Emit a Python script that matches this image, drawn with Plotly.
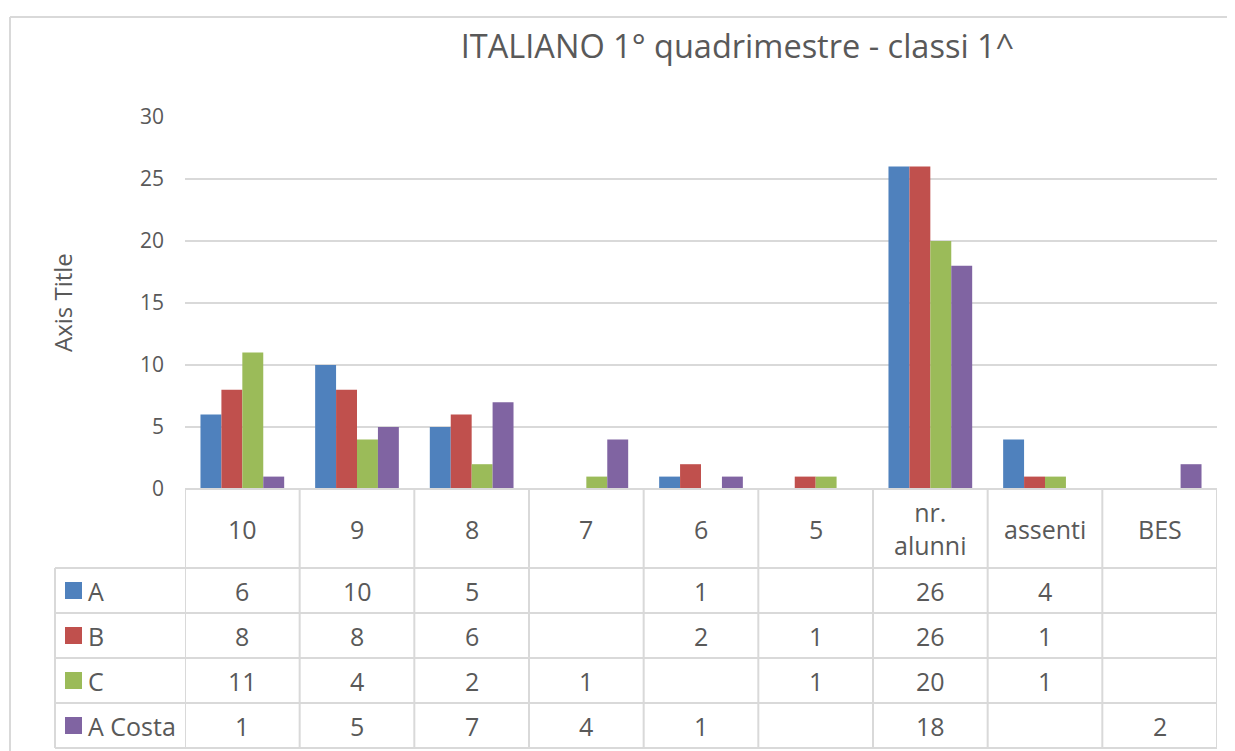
import plotly.graph_objects as go

categories = ["10", "9", "8", "7", "6", "5", "nr. alunni", "assenti", "BES"]
series_names = ["A", "B", "C", "A Costa"]
vals_A = [6, 10, 5, None, 1, None, 26, 4, None]
vals_B = [8, 8, 6, None, 2, 1, 26, 1, None]
vals_C = [11, 4, 2, 1, None, 1, 20, 1, None]
vals_AC = [1, 5, 7, 4, 1, None, 18, None, 2]
colors = ["#4F81BD", "#C0504D", "#9BBB59", "#8064A2"]
y_ticks = [0, 5, 10, 15, 20, 25, 30]

series_vals = [vals_A, vals_B, vals_C, vals_AC]

OFF = 8  # page body margin
W, H = 1227, 743
L, R, T, B = 177, 18, 109, 262
PW = W - L - R
PH = H - T - B
base_y = 489  # page pixel of y=0


def px(xp):
    return (xp - OFF - L) / PW


def py(yp):
    return (base_y - yp) / PH


FONT = "Open Sans"
TXT = "#595959"
GRID = "#D9D9D9"
TBL_SIZE = 25

fig = go.Figure()
xs = list(range(len(categories)))
for name, vals, col in zip(series_names, series_vals, colors):
    fig.add_trace(go.Bar(x=xs, y=vals, name=name, marker_color=col,
                         marker_line_width=0, showlegend=False))

shapes = []
annotations = []

# table geometry (page pixels)
row_edges = [base_y, 568, 613, 658, 703, 748]
legend_left = 55

shapes.append(dict(type="line", xref="paper", yref="paper", x0=0, x1=1,
                   y0=py(row_edges[0]), y1=py(row_edges[0]),
                   line=dict(color=GRID, width=2)))
for ry in row_edges[1:]:
    shapes.append(dict(type="line", xref="paper", yref="paper", x0=px(legend_left), x1=1,
                       y0=py(ry), y1=py(ry), line=dict(color=GRID, width=2)))
for i in range(len(categories) + 1):
    shapes.append(dict(type="line", xref="x", yref="paper", x0=i - 0.5, x1=i - 0.5,
                       y0=py(row_edges[0]), y1=py(row_edges[-1]),
                       line=dict(color=GRID, width=2)))
shapes.append(dict(type="line", xref="paper", yref="paper", x0=px(legend_left), x1=px(legend_left),
                   y0=py(row_edges[1]), y1=py(row_edges[-1]), line=dict(color=GRID, width=2)))

# outer chart border (left and top visible)
shapes.append(dict(type="line", xref="paper", yref="paper", x0=px(10), x1=px(10),
                   y0=py(17), y1=py(770), line=dict(color=GRID, width=2)))
shapes.append(dict(type="line", xref="paper", yref="paper", x0=px(10), x1=px(1240),
                   y0=py(17), y1=py(17), line=dict(color=GRID, width=2)))

cat_center = (row_edges[0] + row_edges[1]) / 2
for i, c in enumerate(categories):
    annotations.append(dict(xref="x", yref="paper", x=i, y=py(cat_center),
                            text=c.replace(" ", "<br>"), showarrow=False,
                            font=dict(family=FONT, size=TBL_SIZE, color=TXT),
                            xanchor="center", yanchor="middle"))

for r, (name, vals, col) in enumerate(zip(series_names, series_vals, colors)):
    yc = (row_edges[r + 1] + row_edges[r + 2]) / 2
    shapes.append(dict(type="rect", xref="paper", yref="paper",
                       x0=px(65), x1=px(82), y0=py(yc - 8.5), y1=py(yc + 8.5),
                       fillcolor=col, line=dict(width=0)))
    annotations.append(dict(xref="paper", yref="paper", x=px(86), y=py(yc),
                            text=name, showarrow=False,
                            font=dict(family=FONT, size=TBL_SIZE, color=TXT),
                            xanchor="left", yanchor="middle"))
    for i, v in enumerate(vals):
        if v is None:
            continue
        annotations.append(dict(xref="x", yref="paper", x=i, y=py(yc),
                                text=str(v), showarrow=False,
                                font=dict(family=FONT, size=TBL_SIZE, color=TXT),
                                xanchor="center", yanchor="middle"))

annotations.append(dict(xref="paper", yref="paper", x=px(62), y=py(303),
                        text="Axis Title", textangle=-90, showarrow=False,
                        font=dict(family=FONT, size=24, color=TXT),
                        xanchor="center", yanchor="middle"))

fig.update_layout(
    width=W, height=H,
    margin=dict(l=L, r=R, t=T, b=B),
    paper_bgcolor="white", plot_bgcolor="white",
    barmode="group", bargap=0.27, bargroupgap=0,
    title=dict(text="ITALIANO 1° quadrimestre - classi 1^", x=(737.5 - OFF) / W, xanchor="center",
               y=1 - (47 - OFF) / H, yanchor="middle",
               font=dict(family=FONT, size=32.5, color=TXT)),
    xaxis=dict(range=[-0.5, len(categories) - 0.5], showticklabels=False, showgrid=False,
               zeroline=False, showline=False, fixedrange=True),
    yaxis=dict(range=[0, 30], tickvals=y_ticks, showgrid=True, gridcolor=GRID, gridwidth=2,
               zeroline=False, showline=False, ticks="", ticklabelstandoff=20,
               tickfont=dict(family=FONT, size=21, color=TXT)),
    shapes=shapes,
    annotations=annotations,
    font=dict(family=FONT, color=TXT),
)

fig.write_html("out.html", post_script="document.body.style.overflow='hidden';")
